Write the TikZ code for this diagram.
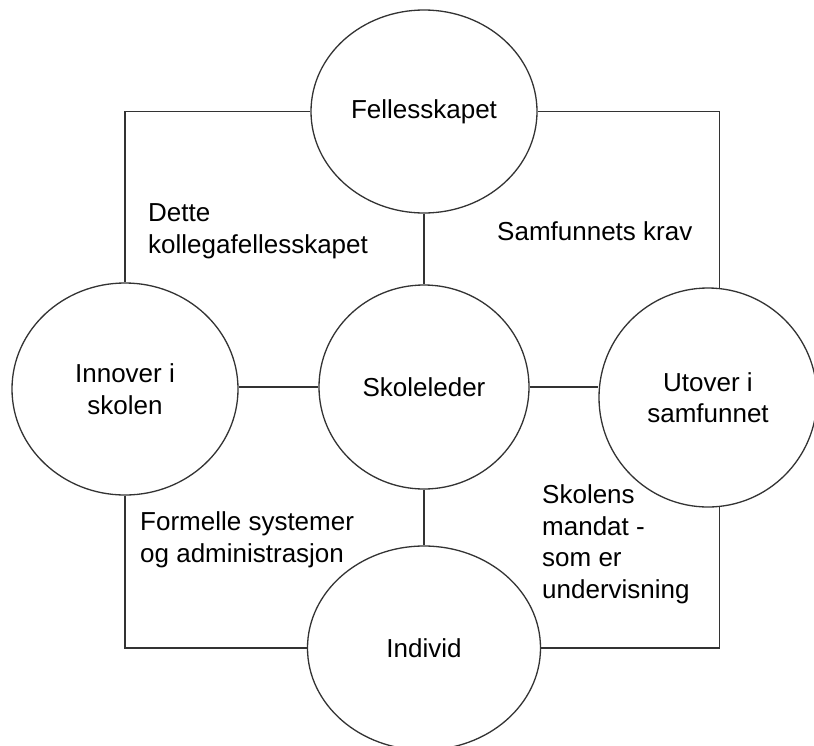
\documentclass[tikz,border=0pt]{standalone}
\usepackage{fontspec}
\setmainfont{Liberation Sans}
\usetikzlibrary{shapes.geometric}
\begin{document}
\begin{tikzpicture}[x=1pt,y=-1pt,
  every node/.style={font=\fontsize{26}{31.5}\selectfont},
  oval/.style={ellipse, draw=black!80, line width=1.3pt, fill=white,
    inner sep=0pt, align=center},
  link/.style={draw=black!80, line width=1.3pt},
  note/.style={anchor=base west, align=left, inner sep=0pt}]
\clip (0,0) rectangle (814,745);
\fill[white] (0,0) rectangle (814,745);

% the five circles
\node[oval, minimum width=226, minimum height=203] (F)   at (424,111.5) {Fellesskapet};
\node[oval, minimum width=210, minimum height=204] (S)   at (424,387)   {Skoleleder};
\node[oval, minimum width=226, minimum height=212] (Inn) at (125,389)   {Innover i\\skolen};
\node[oval, minimum width=218, minimum height=219] (U)   at (708,397.5) {Utover i\\samfunnet};
\node[oval, minimum width=233, minimum height=204] (I)   at (424,648)   {Individ};

% spokes from the centre
\draw[link] (F.south) -- (S.north);
\draw[link] (S.south) -- (I.north);
\draw[link] (S.west) -- (S.west -| Inn.east);
\draw[link] (S.east) -- (S.east -| U.west);

% outer frame
\draw[link] (F.west) -| (Inn.north);
\draw[link] (F.east) -| (U.84);
\draw[link] (Inn.south) |- (I.west);
\draw[link] (U.-84) |- (I.east);

% labels in the four quarters (base anchor sits on the last line)
\node[note] (t1) at (148,253) {Dette\\kollegafellesskapet};
\node[note] (t2) at (497,240) {Samfunnets krav};
\node[note] (t3) at (140,562) {Formelle systemer\\og administrasjon};
\node[note] (t4) at (542,598) {Skolens\\mandat -\\som er\\undervisning};
\end{tikzpicture}
\end{document}
